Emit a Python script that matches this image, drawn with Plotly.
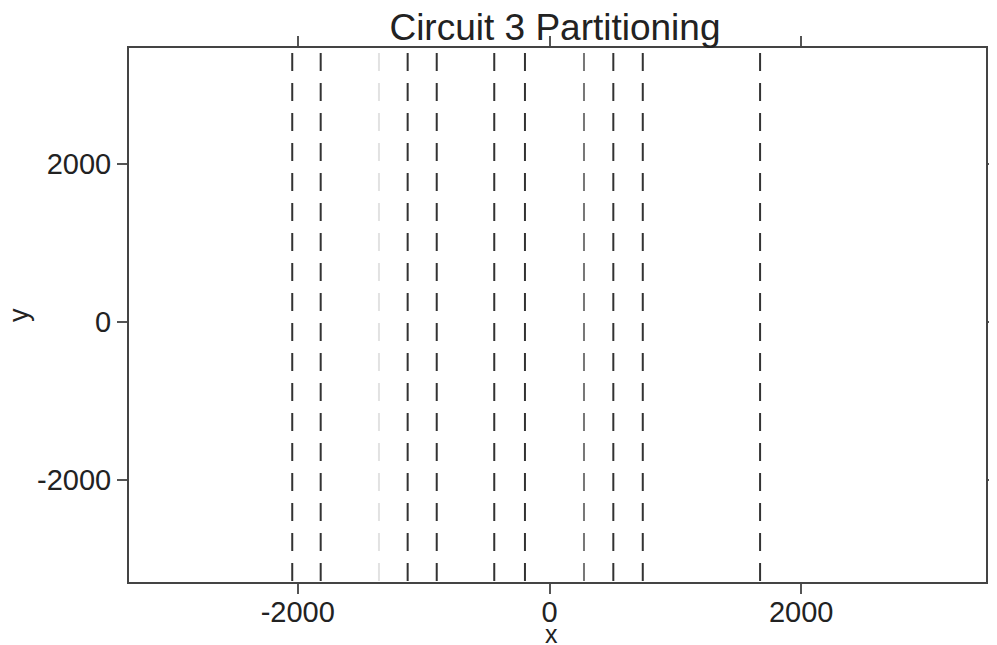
import plotly.graph_objects as go

# Partition cut positions (x)
cut_x = [-2044, -1818, -1355, -1127, -896, -439, -195, 274, 507, 741, 1673]
cut_color = ["#333", "#333", "#e2e2e2", "#333", "#333", "#333", "#333", "#777", "#333", "#333", "#333"]
line_y = [3405, -3291]

x_range = [-3341, 3468]
y_range = [-3291, 3468]
tick_vals = [-2000, 0, 2000]
tick_text = ["-2000", "0", "2000"]

fig = go.Figure()
for xv, col in zip(cut_x, cut_color):
    fig.add_trace(go.Scatter(
        x=[xv, xv], y=line_y, mode="lines",
        line=dict(color=col, width=2, dash="18px,12px"),
        showlegend=False, hoverinfo="skip"))

font = "Liberation Sans, Arial, Helvetica, sans-serif"
axis_common = dict(
    showline=True, linecolor="#444", linewidth=2, mirror="allticks",
    ticks="outside", ticklen=10, tickwidth=1.5, tickcolor="#555",
    showgrid=False, zeroline=False, automargin=False,
    tickvals=tick_vals, ticktext=tick_text,
    tickfont=dict(family=font, size=29, color="#222"),
)

fig.update_layout(
    width=997, height=645,
    margin=dict(l=121, r=19, t=40, b=71, autoexpand=False),
    paper_bgcolor="white", plot_bgcolor="white",
    title=dict(text="Circuit 3 Partitioning", x=0.5486, xanchor="center",
               y=0.970, yanchor="middle", automargin=False,
               font=dict(family=font, size=37, color="#222")),
    xaxis=dict(range=x_range, ticklabelstandoff=-7, **axis_common),
    yaxis=dict(range=y_range, **axis_common),
    annotations=[
        dict(text="x", xref="paper", yref="paper", x=0.5, xshift=-6, y=0, yshift=-52,
             xanchor="center", yanchor="middle", showarrow=False,
             font=dict(family=font, size=25, color="#222")),
        dict(text="y", xref="paper", yref="paper", x=0, xshift=-110, y=0.5,
             xanchor="center", yanchor="middle", showarrow=False, textangle=-90,
             font=dict(family=font, size=27, color="#222")),
    ],
)

fig.write_html("out.html")
